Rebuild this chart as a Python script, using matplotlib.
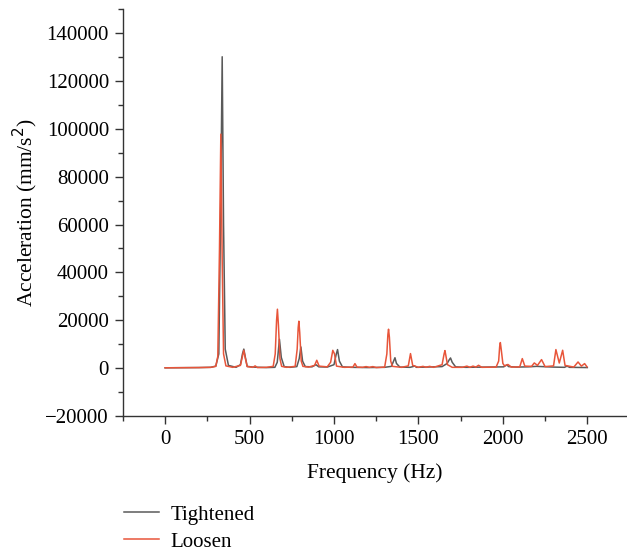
import matplotlib.pyplot as plt
from matplotlib.ticker import MultipleLocator

plt.rcParams['font.family'] = ['Liberation Serif', 'DejaVu Serif']

# spectrum (Hz, mm/s^2)
freq_tight = [0, 100, 200, 270, 300, 318, 328, 338, 346, 356, 375, 420,
              446, 458, 466, 474, 486, 520, 600, 650, 664, 677, 688, 705,
              740, 780, 794, 804, 814, 830, 870, 893, 910, 960, 1000, 1012,
              1021, 1032, 1050, 1100, 1200, 1300, 1340, 1353, 1361, 1370,
              1390, 1450, 1468, 1477, 1488, 1550, 1640, 1670, 1682, 1690,
              1700, 1720, 1780, 1900, 2005, 2016, 2024, 2034, 2080, 2150,
              2200, 2300, 2365, 2380, 2395, 2450, 2500]
acc_tight = [200, 250, 300, 400, 900, 6000, 60000, 130000, 60000, 8000,
             1200, 400, 1500, 6000, 8000, 5000, 800, 500, 300, 400, 2500,
             12100, 4500, 700, 400, 700, 4000, 8900, 3000, 700, 600, 1500,
             600, 500, 1500, 5500, 7800, 3000, 600, 400, 300, 400, 800, 3000,
             4400, 2000, 500, 400, 700, 1000, 400, 500, 700, 2000, 3500,
             4300, 2500, 600, 400, 500, 600, 1100, 1400, 700, 500, 600, 800,
             500, 400, 900, 400, 350, 300]

freq_loose = [0, 100, 200, 270, 300, 312, 322, 330, 338, 346, 360, 400,
              446, 458, 466, 474, 486, 520, 533, 546, 600, 640, 652, 660,
              665, 671, 680, 690, 720, 770, 782, 788, 792, 797, 806, 816,
              850, 885, 898, 912, 960, 980, 993, 1003, 1015, 1060, 1112, 1124,
              1136, 1170, 1190, 1210, 1230, 1250, 1300, 1313, 1319, 1323,
              1328, 1336, 1346, 1400, 1440, 1453, 1466, 1500, 1527, 1545,
              1566, 1590, 1640, 1652, 1657, 1662, 1672, 1700, 1760, 1787,
              1805, 1823, 1840, 1856, 1875, 1960, 1975, 1981, 1985, 1990,
              2000, 2010, 2030, 2050, 2100, 2115, 2130, 2170, 2186, 2205,
              2229, 2250, 2300, 2314, 2334, 2354, 2368, 2420, 2445, 2465,
              2484, 2498]
acc_loose = [200, 250, 300, 400, 800, 5000, 50000, 97700, 45000, 6000,
             1000, 400, 1200, 5000, 7500, 4500, 700, 400, 1000, 300, 400,
             800, 6000, 20000, 24650, 18000, 4000, 800, 400, 800, 8000,
             17000, 19640, 15000, 3000, 800, 500, 1200, 3340, 900, 600, 2500,
             7500, 6000, 900, 400, 500, 1950, 500, 400, 700, 400, 700, 300,
             500, 6000, 14000, 16300, 13000, 3000, 800, 400, 1000, 6130, 1200,
             400, 800, 400, 800, 400, 1500, 6000, 7380, 5500, 1500, 400, 400,
             900, 400, 900, 500, 1250, 400, 500, 3000, 9000, 10730, 8000,
             2000, 1000, 1600, 500, 600, 4040, 900, 800, 2230, 1200, 3620,
             700, 1000, 7800, 2200, 7520, 1200, 500, 2630, 900, 1950, 600]

fig = plt.figure(figsize=(6.27, 5.52), dpi=100)
ax = fig.add_axes([0.196, 0.246, 0.804, 0.738])

ax.plot(freq_tight, acc_tight, color='#5a5a5a', lw=1.1, label='Tightened')
ax.plot(freq_loose, acc_loose, color='#e8553a', lw=1.1, label='Loosen')

ax.set_xlim(-250, 2735)
ax.set_ylim(-20000, 150000)
ax.xaxis.set_major_locator(MultipleLocator(500))
ax.xaxis.set_minor_locator(MultipleLocator(250))
ax.yaxis.set_major_locator(MultipleLocator(20000))
ax.yaxis.set_minor_locator(MultipleLocator(10000))
ax.set_yticks(range(-20000, 140001, 20000))

for s in ['top', 'right']:
    ax.spines[s].set_visible(False)
for s in ['left', 'bottom']:
    ax.spines[s].set_color('#333333')
    ax.spines[s].set_linewidth(1.0)

ax.tick_params(which='major', direction='out', length=6, width=1.0,
               color='#333333', labelsize=15, pad=4)
ax.tick_params(which='minor', direction='out', length=3.5, width=1.0,
               color='#333333')

ax.set_xlabel('Frequency (Hz)', fontsize=15.5, labelpad=10)
ax.set_ylabel('Acceleration (mm/s$^2$)', fontsize=15.5)

fig.legend(loc='upper left', bbox_to_anchor=(0.185, 0.1), frameon=False,
           fontsize=15, handlelength=1.65, handletextpad=0.55,
           labelspacing=0.35, borderaxespad=0)

fig.savefig('out.png', dpi=100)
